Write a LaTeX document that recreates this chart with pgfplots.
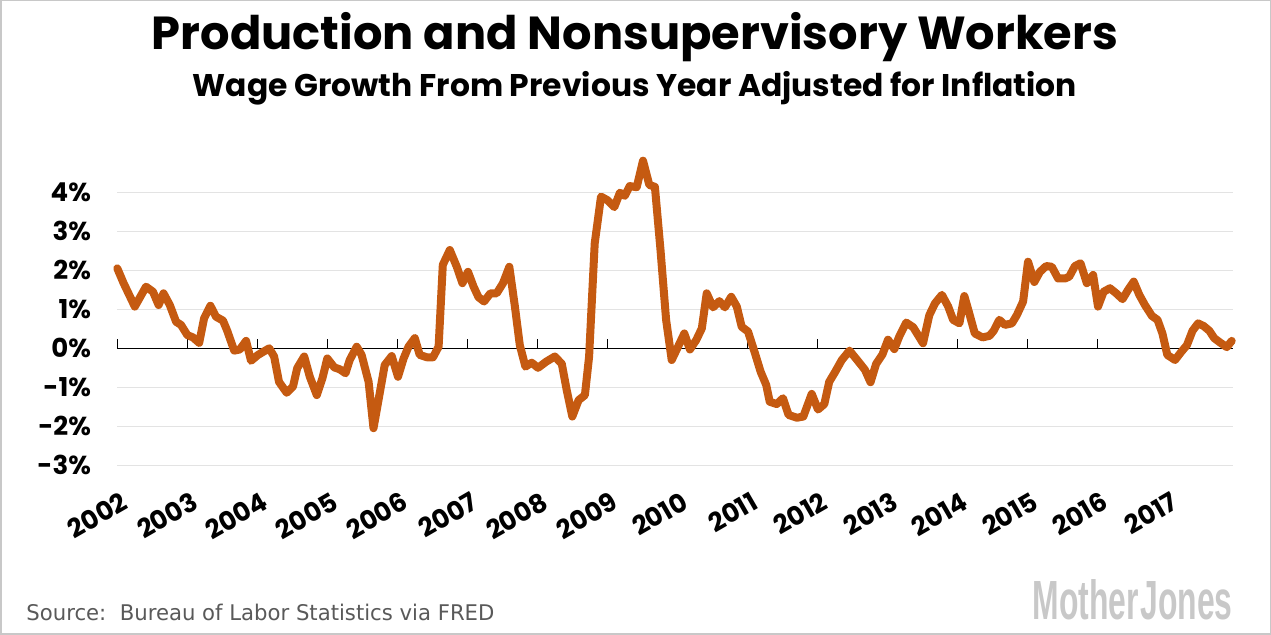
\documentclass[border=0pt]{standalone}
\usepackage{fontspec}
\usepackage{pgfplots}
\pgfplotsset{compat=1.18}
\setmainfont{Liberation Sans}
\newfontfamily\pop{Poppins}
\newfontfamily\dvs{DejaVu Sans}
\definecolor{wage}{HTML}{C55A11}
\definecolor{gridgray}{HTML}{E3E3E3}
\definecolor{framegray}{HTML}{C8C8C8}
\definecolor{srcgray}{HTML}{595959}
\definecolor{logogray}{HTML}{C8C8C8}

\begin{document}
\begin{tikzpicture}
\useasboundingbox (0,0) rectangle (635.5pt,-317.5pt);
\draw[framegray, line width=0.75pt] (0.375pt,-0.375pt) rectangle (635.125pt,-317.125pt);

% titles
\node[anchor=base, inner sep=0pt] at (317.5pt,-25pt)
  {\resizebox{483pt}{!}{\pop\bfseries Production and Nonsupervisory Workers}};
\node[anchor=base, inner sep=0pt] at (317.5pt,-48.5pt)
  {\resizebox{442pt}{!}{\pop\bfseries Wage Growth From Previous Year Adjusted for Inflation}};

% footer
\node[anchor=base west, inner sep=0pt, text=srcgray] at (13pt,-310.5pt)
  {\resizebox{234pt}{8.2pt}{\dvs Source:\ \ Bureau of Labor Statistics via FRED}};
\node[anchor=south east, inner sep=0pt, text=logogray] at (616.5pt,-310pt)
  {\resizebox{100pt}{20pt}{\bfseries Mother\hspace{0.05em}Jones}};

\begin{axis}[
    at={(58.65pt,-232.65pt)}, anchor=south west,
    scale only axis,
    width=557.7pt, height=156pt,
    xmin=2002, xmax=2017.934,
    ymin=-3, ymax=5,
    axis line style={draw=none},
    clip=false,
    ytick={-3,...,4},
    yticklabels={-3\%,-2\%,-1\%,0\%,1\%,2\%,3\%,4\%},
    ymajorgrids=true,
    grid style={gridgray, line width=0.75pt},
    xtick={2002,...,2017},
    xticklabels={2002,2003,2004,2005,2006,2007,2008,2009,2010,2011,2012,2013,2014,2015,2016,2017},
    major tick length=0pt,
    tick label style={font=\pop\bfseries\fontsize{13}{13}\selectfont},
    xticklabel style={anchor=north east, inner sep=0pt, yshift=-12.5pt, xshift=1.5pt, rotate=30},
    yticklabel style={anchor=east, inner sep=0pt, xshift=-13pt},
]
% zero line with year ticks
\draw[black, line width=0.75pt] (axis cs:2002,0) -- (axis cs:2017.934,0);
\pgfplotsinvokeforeach{2002,...,2017}{
  \draw[black, line width=0.75pt] (axis cs:#1,0) -- ([yshift=4.5pt]axis cs:#1,0);
}

\addplot[wage, line width=4pt, line join=round, line cap=round] coordinates {
(2002.00,2.05) (2002.09,1.67) (2002.25,1.07) (2002.41,1.58) (2002.51,1.45)
(2002.59,1.11) (2002.66,1.41) (2002.75,1.11) (2002.84,0.68) (2002.91,0.60)
(2003.00,0.34) (2003.08,0.28) (2003.17,0.14) (2003.24,0.77) (2003.33,1.09)
(2003.41,0.81) (2003.51,0.71) (2003.57,0.45) (2003.67,-0.06) (2003.75,-0.03)
(2003.84,0.19) (2003.91,-0.32) (2004.01,-0.17) (2004.17,0.00) (2004.24,-0.21)
(2004.31,-0.86) (2004.42,-1.14) (2004.51,-0.98) (2004.57,-0.51) (2004.67,-0.21)
(2004.75,-0.73) (2004.85,-1.20) (2004.93,-0.77) (2005.00,-0.26) (2005.10,-0.49)
(2005.18,-0.54) (2005.26,-0.64) (2005.32,-0.30) (2005.42,0.04) (2005.49,-0.17)
(2005.59,-0.86) (2005.66,-2.05) (2005.74,-1.24) (2005.82,-0.43) (2005.92,-0.20)
(2006.01,-0.73) (2006.09,-0.26) (2006.16,0.04) (2006.25,0.26) (2006.32,-0.17)
(2006.42,-0.23) (2006.51,-0.23) (2006.59,0.04) (2006.65,2.14) (2006.75,2.52)
(2006.85,2.09) (2006.93,1.67) (2007.01,1.96) (2007.09,1.58) (2007.16,1.31)
(2007.24,1.20) (2007.33,1.41) (2007.42,1.41) (2007.51,1.67) (2007.60,2.09)
(2007.68,1.07) (2007.75,0.08) (2007.83,-0.47) (2007.92,-0.37) (2008.01,-0.50)
(2008.13,-0.34) (2008.25,-0.21) (2008.35,-0.40) (2008.42,-1.07) (2008.50,-1.75)
(2008.59,-1.33) (2008.68,-1.20) (2008.74,-0.21) (2008.82,2.69) (2008.91,3.89)
(2009.00,3.80) (2009.10,3.62) (2009.18,3.99) (2009.25,3.91) (2009.32,4.16)
(2009.42,4.13) (2009.51,4.81) (2009.60,4.19) (2009.68,4.14) (2009.76,2.52)
(2009.84,0.73) (2009.92,-0.30) (2010.01,0.04) (2010.10,0.38) (2010.18,-0.03)
(2010.27,0.21) (2010.35,0.51) (2010.42,1.41) (2010.51,1.05) (2010.60,1.21)
(2010.68,1.05) (2010.77,1.32) (2010.85,1.07) (2010.92,0.55) (2011.01,0.43)
(2011.11,-0.13) (2011.19,-0.60) (2011.27,-0.94) (2011.32,-1.37) (2011.42,-1.43)
(2011.51,-1.28) (2011.59,-1.71) (2011.71,-1.78) (2011.80,-1.75) (2011.92,-1.17)
(2012.01,-1.57) (2012.10,-1.43) (2012.17,-0.86) (2012.25,-0.62) (2012.35,-0.30)
(2012.46,-0.06) (2012.56,-0.28) (2012.68,-0.55) (2012.76,-0.87) (2012.84,-0.40)
(2012.93,-0.16) (2013.01,0.22) (2013.10,-0.02) (2013.17,0.30) (2013.27,0.66)
(2013.37,0.54) (2013.51,0.13) (2013.60,0.85) (2013.68,1.15) (2013.78,1.37)
(2013.87,1.07) (2013.94,0.73) (2014.03,0.64) (2014.10,1.34) (2014.17,0.90)
(2014.25,0.38) (2014.36,0.28) (2014.46,0.32) (2014.52,0.45) (2014.60,0.73)
(2014.68,0.60) (2014.78,0.64) (2014.85,0.85) (2014.94,1.20) (2015.01,2.22)
(2015.10,1.70) (2015.18,1.96) (2015.27,2.11) (2015.35,2.09) (2015.44,1.79)
(2015.54,1.79) (2015.60,1.84) (2015.68,2.11) (2015.76,2.18) (2015.85,1.67)
(2015.94,1.88) (2016.01,1.07) (2016.09,1.45) (2016.18,1.54) (2016.27,1.41)
(2016.36,1.26) (2016.44,1.50) (2016.52,1.71) (2016.60,1.37) (2016.68,1.11)
(2016.78,0.83) (2016.86,0.73) (2016.93,0.38) (2017.00,-0.17) (2017.11,-0.30)
(2017.20,-0.09) (2017.28,0.08) (2017.36,0.45) (2017.44,0.64) (2017.52,0.57)
(2017.60,0.45) (2017.67,0.26) (2017.76,0.14) (2017.85,0.03) (2017.92,0.19)
};
\end{axis}
\end{tikzpicture}
\end{document}
